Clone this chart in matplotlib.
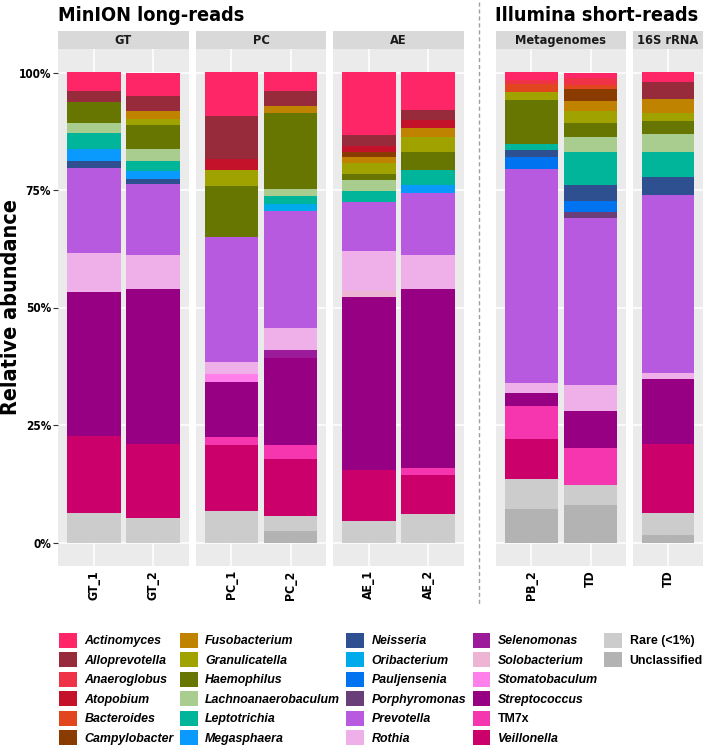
import matplotlib
matplotlib.use("Agg")
import matplotlib.pyplot as plt
from matplotlib.patches import Patch
from matplotlib.lines import Line2D

W, H = 709, 752
DPI = 100

genera = ["Actinomyces", "Alloprevotella", "Anaeroglobus", "Atopobium", "Bacteroides",
          "Campylobacter", "Fusobacterium", "Granulicatella", "Haemophilus",
          "Lachnoanaerobaculum", "Leptotrichia", "Megasphaera", "Neisseria",
          "Oribacterium", "Pauljensenia", "Porphyromonas", "Prevotella", "Rothia",
          "Selenomonas", "Solobacterium", "Stomatobaculum", "Streptococcus", "TM7x",
          "Veillonella", "Rare (<1%)", "Unclassified"]
colors = ["#FF2667", "#972B3C", "#F03248", "#C4122A", "#E2461E", "#8A3C00", "#C08300",
          "#A0A200", "#667600", "#A9CD8E", "#00B59A", "#0A9AFE", "#2E4F90", "#00ABEC",
          "#0073F0", "#6A3E78", "#B75AE0", "#EFB0EA", "#9B1B9A", "#EEB4D4", "#FF80EA",
          "#970083", "#F536AE", "#CC006B", "#CCCCCC", "#B3B3B3"]
non_italic = {"TM7x", "Rare (<1%)", "Unclassified"}

# relative abundance (%)
gt_1 = {"Actinomyces": 4.0, "Alloprevotella": 2.2, "Haemophilus": 4.5, "Lachnoanaerobaculum": 2.2,
        "Leptotrichia": 3.4, "Megasphaera": 2.5, "Neisseria": 1.6, "Prevotella": 17.9,
        "Rothia": 8.3, "Streptococcus": 30.8, "Veillonella": 16.4, "Rare (<1%)": 6.2}
gt_2 = {"Actinomyces": 5.0, "Alloprevotella": 3.2, "Fusobacterium": 1.7, "Granulicatella": 1.2,
        "Haemophilus": 5.1, "Lachnoanaerobaculum": 2.6, "Leptotrichia": 2.2, "Megasphaera": 1.7,
        "Neisseria": 1.1, "Prevotella": 15.1, "Rothia": 7.2, "Streptococcus": 32.9,
        "Veillonella": 15.8, "Rare (<1%)": 5.2}
pc_1 = {"Actinomyces": 9.2, "Alloprevotella": 9.2, "Atopobium": 2.4, "Granulicatella": 3.3,
        "Haemophilus": 10.9, "Prevotella": 26.6, "Rothia": 2.6, "Stomatobaculum": 1.6,
        "Streptococcus": 11.7, "TM7x": 1.7, "Veillonella": 14.1, "Rare (<1%)": 6.7}
pc_2 = {"Actinomyces": 3.9, "Alloprevotella": 3.3, "Fusobacterium": 1.5, "Haemophilus": 16.1,
        "Lachnoanaerobaculum": 1.5, "Leptotrichia": 1.7, "Oribacterium": 1.6, "Prevotella": 24.8,
        "Rothia": 4.8, "Selenomonas": 1.7, "Streptococcus": 18.4, "TM7x": 3.1,
        "Veillonella": 12.1, "Rare (<1%)": 3.1, "Unclassified": 2.5}
ae_1 = {"Actinomyces": 13.2, "Alloprevotella": 2.4, "Atopobium": 1.3, "Campylobacter": 1.1,
        "Fusobacterium": 1.2, "Granulicatella": 2.4, "Haemophilus": 1.3,
        "Lachnoanaerobaculum": 2.3, "Leptotrichia": 2.4, "Prevotella": 10.4, "Rothia": 8.5,
        "Solobacterium": 1.2, "Streptococcus": 36.9, "Veillonella": 10.9, "Rare (<1%)": 4.5}
ae_2 = {"Actinomyces": 8.0, "Alloprevotella": 2.1, "Atopobium": 1.6, "Fusobacterium": 2.1,
        "Granulicatella": 3.1, "Haemophilus": 3.8, "Leptotrichia": 3.3, "Megasphaera": 1.7,
        "Prevotella": 13.0, "Rothia": 7.4, "Streptococcus": 38.0, "TM7x": 1.5,
        "Veillonella": 8.2, "Rare (<1%)": 6.1}
pb_2 = {"Actinomyces": 1.6, "Anaeroglobus": 0.9, "Bacteroides": 1.6, "Granulicatella": 1.8,
        "Haemophilus": 9.2, "Leptotrichia": 1.3, "Neisseria": 1.6, "Pauljensenia": 2.6,
        "Prevotella": 45.3, "Rothia": 2.3, "Streptococcus": 2.6, "TM7x": 7.0,
        "Veillonella": 8.7, "Rare (<1%)": 6.2, "Unclassified": 7.2}
td_meta = {"Actinomyces": 1.1, "Anaeroglobus": 1.5, "Bacteroides": 0.9, "Campylobacter": 2.5,
           "Fusobacterium": 2.1, "Granulicatella": 2.6, "Haemophilus": 3.1,
           "Lachnoanaerobaculum": 3.2, "Leptotrichia": 7.0, "Neisseria": 3.3,
           "Pauljensenia": 2.5, "Porphyromonas": 1.1, "Prevotella": 35.7, "Rothia": 5.5,
           "Streptococcus": 7.8, "TM7x": 8.0, "Rare (<1%)": 4.2, "Unclassified": 8.0}
td_16s = {"Actinomyces": 2.0, "Alloprevotella": 3.6, "Fusobacterium": 3.0, "Granulicatella": 1.8,
          "Haemophilus": 2.6, "Lachnoanaerobaculum": 4.0, "Leptotrichia": 5.3, "Neisseria": 3.8,
          "Prevotella": 37.9, "Rothia": 1.3, "Streptococcus": 13.8, "Veillonella": 14.8,
          "Rare (<1%)": 4.6, "Unclassified": 1.6}

panel_names = ["GT", "PC", "AE", "Metagenomes", "16S rRNA"]
panel_samples = [[gt_1, gt_2], [pc_1, pc_2], [ae_1, ae_2], [pb_2, td_meta], [td_16s]]
panel_labels = [["GT_1", "GT_2"], ["PC_1", "PC_2"], ["AE_1", "AE_2"], ["PB_2", "TD"], ["TD"]]
y_ticks = [0, 25, 50, 75, 100]
y_ticklabels = ["0%", "25%", "50%", "75%", "100%"]

# layout (pixels)
panel_x = [(58, 189), (196, 326), (333, 464), (496, 626), (633, 703)]
PANEL_TOP, PANEL_BOT = 49, 566
STRIP_TOP = 31

COND = ["DejaVu Sans Condensed", "DejaVu Sans"]
CS = "condensed"
REG = ["Liberation Sans", "DejaVu Sans"]


def rect(x0, y0, x1, y1):
    return [x0 / W, 1 - y1 / H, (x1 - x0) / W, (y1 - y0) / H]


fig = plt.figure(figsize=(W / DPI, H / DPI), dpi=DPI)
fig.patch.set_facecolor("white")

for k, (name, samples, labels, (x0, x1)) in enumerate(
        zip(panel_names, panel_samples, panel_labels, panel_x)):
    ax = fig.add_axes(rect(x0, PANEL_TOP, x1, PANEL_BOT))
    ax.set_facecolor("#EBEBEB")
    n = len(samples)
    for i, s in enumerate(samples):
        total = sum(s.values())
        bottom = 0.0
        for g, c in zip(reversed(genera), reversed(colors)):
            v = s.get(g, 0.0) * 100.0 / total
            if v > 0:
                ax.bar(i, v, bottom=bottom, width=0.9, color=c, linewidth=0, zorder=2)
                bottom += v
    ax.set_xlim(-0.6, n - 0.4)
    ax.set_ylim(-5, 105)
    ax.set_xticks(range(n))
    ax.set_xticklabels(labels, rotation=90, family=COND, stretch=CS, weight="bold",
                       fontsize=8.8)
    ax.set_yticks(y_ticks)
    ax.grid(True, color="white", linewidth=1.1, zorder=0)
    ax.set_axisbelow(True)
    for sp in ax.spines.values():
        sp.set_visible(False)
    ax.tick_params(axis="x", length=0, pad=3)
    if k == 0:
        ax.set_yticklabels(y_ticklabels, family=COND, stretch=CS, weight="bold", fontsize=8.5)
        ax.tick_params(axis="y", length=3.5, width=0.8, color="#333333", pad=1.5)
    else:
        ax.tick_params(axis="y", length=0, labelleft=False)
    # strip
    sax = fig.add_axes(rect(x0, STRIP_TOP, x1, PANEL_TOP))
    sax.set_facecolor("#D9D9D9")
    sax.set_xticks([])
    sax.set_yticks([])
    for sp in sax.spines.values():
        sp.set_visible(False)
    sax.text(0.5, 0.45, name, transform=sax.transAxes, ha="center", va="center",
             family=COND, stretch=CS, weight="bold", fontsize=9.2, color="#1A1A1A")

# y axis title
fig.text(11 / W, 1 - 307 / H, "Relative abundance", rotation=90, family=COND, stretch=CS,
         weight="bold", fontsize=15.5, ha="center", va="center")

# section titles
fig.text(58 / W, 1 - 21 / H, "MinION long-reads", family=COND, stretch=CS, weight="bold",
         fontsize=14.2, ha="left", va="baseline")
fig.text(495 / W, 1 - 21 / H, "Illumina short-reads", family=COND, stretch=CS,
         weight="bold", fontsize=14.2, ha="left", va="baseline")

# dashed divider
fig.add_artist(Line2D([479 / W, 479 / W], [1 - 2 / H, 1 - 606 / H], transform=fig.transFigure,
                      color="#A0A0A0", linestyle=(0, (3, 2)), linewidth=1))

# legend: 6 rows per column, last column holds the two grey classes
handles = [Patch(facecolor=c, edgecolor="none") for c in colors]
labels_leg = list(genera)
for _ in range(4):
    handles.append(Patch(facecolor="none", edgecolor="none"))
    labels_leg.append("")
leg = fig.legend(handles, labels_leg, ncol=5, loc="upper left",
                 bbox_to_anchor=(59 / W, 1 - 633 / H), frameon=False,
                 prop={"family": REG, "weight": "bold", "size": 8.9},
                 handlelength=1.45, handleheight=1.45, handletextpad=0.6,
                 labelspacing=0.39, columnspacing=0.5, borderpad=0, borderaxespad=0)
for t in leg.get_texts():
    if t.get_text() not in non_italic:
        t.set_style("italic")

fig.savefig("out.png", dpi=DPI, facecolor="white")
